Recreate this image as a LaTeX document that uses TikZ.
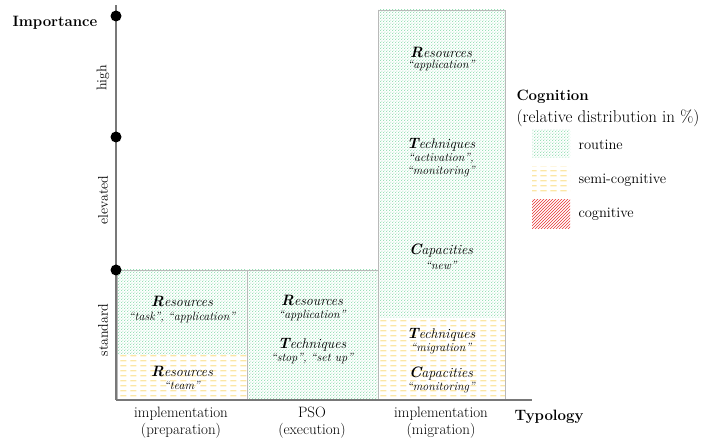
\documentclass[tikz,border=0pt]{standalone}
\usetikzlibrary{patterns,patterns.meta}
\definecolor{routinegreen}{RGB}{80,200,130}
\definecolor{semiyellow}{RGB}{245,185,0}
\definecolor{cogred}{RGB}{230,50,50}
\definecolor{axisgray}{RGB}{120,120,120}
\definecolor{boxgray}{RGB}{185,185,185}
\tikzdeclarepattern{
  name=semidash,
  type=uncolored,
  bounding box={(0,0) and (10pt,5pt)},
  tile size={(10pt,5pt)},
  code={
    \draw[line width=0.75pt] (0.5pt,2.5pt) -- (7pt,2.5pt);
  }
}
\tikzdeclarepattern{
  name=routinedots,
  type=uncolored,
  bounding box={(0,0) and (3.2pt,3.2pt)},
  tile size={(3.2pt,3.2pt)},
  code={
    \fill (0.8pt,0.8pt) circle (0.6pt);
    \fill (2.4pt,2.4pt) circle (0.6pt);
  }
}
\newcommand\initl[1]{{\bfseries\itshape\fontsize{15}{15}\selectfont #1}}
\tikzset{
  routine/.style={pattern={routinedots}, pattern color=routinegreen},
  semicog/.style={pattern={semidash}, pattern color=semiyellow},
  cogn/.style={pattern=north east lines, pattern color=cogred},
  boxline/.style={draw=boxgray, line width=0.8pt},
  axisline/.style={draw=axisgray, line width=1.3pt},
  dotnode/.style={circle, fill=black, inner sep=0pt, minimum size=11pt},
  mainlbl/.style={align=center, font=\itshape\fontsize{14}{14}\selectfont},
  sublbl/.style={align=center, font=\itshape\fontsize{12}{13}\selectfont},
  axlbl/.style={rotate=90, font=\fontsize{14}{14}\selectfont},
  collbl/.style={align=center, font=\fontsize{15}{17}\selectfont},
  bigbold/.style={font=\bfseries\fontsize{15}{15}\selectfont},
  leglbl/.style={anchor=west, font=\fontsize{14.5}{14.5}\selectfont},
}
\begin{document}
\begin{tikzpicture}[x=1pt,y=-1pt]
\useasboundingbox (0,0) rectangle (713,443);
% boxes
\path[routine] (117,270) rectangle (247,355);
\path[semicog] (117,355) rectangle (247,400);
\path[boxline] (117,270) rectangle (247,400);
\path[routine] (247,270) rectangle (378,400);
\path[boxline] (247,270) rectangle (378,400);
\path[routine] (378,10) rectangle (505,318);
\path[semicog] (378,318) rectangle (505,400);
\path[boxline] (378,10) rectangle (505,400);
% axes
\coordinate (ytop) at (116,5);
\coordinate (orig) at (116,400);
\coordinate (xend) at (532,400);
\draw[axisline] (orig) -- (ytop);
\draw[axisline] (orig) -- (xend);
\node[dotnode] (dhigh) at (116,16) {};
\node[dotnode] (delev) at (116,137) {};
\node[dotnode] (dstd) at (116,270) {};
% axis titles
\node[bigbold] (imp) at (55,23) {Importance};
\node[bigbold] (typ) at (549,417) {Typology};
\node[axlbl] (high) at (103,78) {high};
\node[axlbl] (elev) at (103,200) {elevated};
\node[axlbl] (std) at (103,330) {standard};
% column labels
\node[collbl] (c1) at (181,423) {implementation\\(preparation)};
\node[collbl] (c2) at (312,423) {PSO\\(execution)};
\node[collbl] (c3) at (441,423) {implementation\\(migration)};
% column 1
\node[mainlbl] (r1) at (182,301) {\initl{R}esources};
\node[sublbl] (r1s) at (182,318) {``task'', ``application''};
\node[mainlbl] (r2) at (182,371) {\initl{R}esources};
\node[sublbl] (r2s) at (182,385) {``team''};
% column 2
\node[mainlbl] (r3) at (312,300) {\initl{R}esources};
\node[sublbl] (r3s) at (312,316) {``application''};
\node[mainlbl] (t1) at (312,345) {\initl{T}echniques};
\node[sublbl] (t1s) at (312,359) {``stop'', ``set up''};
% column 3
\node[mainlbl] (r4) at (441,52) {\initl{R}esources};
\node[sublbl] (r4s) at (441,66) {``application''};
\node[mainlbl] (t2) at (441,145) {\initl{T}echniques};
\node[sublbl] (t2s) at (441,165) {``activation'',\\``monitoring''};
\node[mainlbl] (c4) at (441,251) {\initl{C}apacities};
\node[sublbl] (c4s) at (441,265) {``new''};
\node[mainlbl] (t3) at (441,335) {\initl{T}echniques};
\node[sublbl] (t3s) at (441,349) {``migration''};
\node[mainlbl] (c5) at (441,374) {\initl{C}apacities};
\node[sublbl] (c5s) at (441,388) {``monitoring''};
% legend
\node[bigbold, anchor=west] (cog) at (513,97) {Cognition};
\node[leglbl, font=\fontsize{17}{17}\selectfont] (rel) at (513,118) {(relative distribution in \%)};
\path[routine] (532,130) rectangle (570,158);
\node[leglbl] (lr) at (575,145) {routine};
\path[semicog] (532,167) rectangle (570,192);
\node[leglbl] (ls) at (575,180) {semi-cognitive};
\path[cogn] (532,200) rectangle (570,229);
\node[leglbl] (lc) at (575,214) {cognitive};
\end{tikzpicture}
\end{document}
